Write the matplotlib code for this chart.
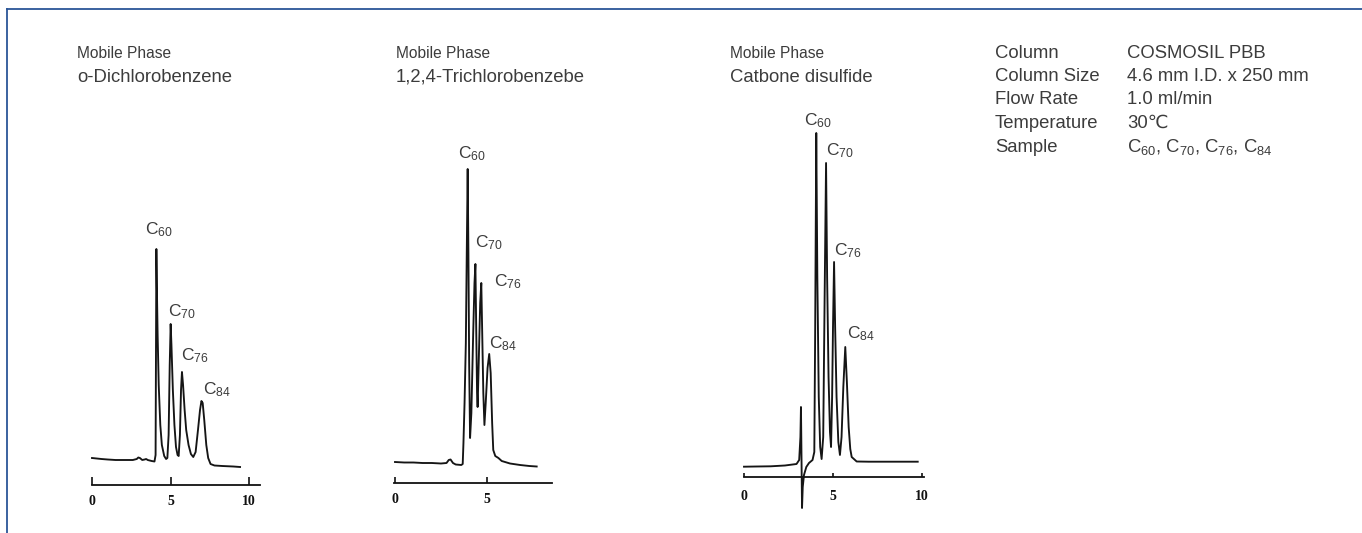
import matplotlib
matplotlib.use("Agg")
import matplotlib.pyplot as plt
from matplotlib.lines import Line2D

plt.rcParams['font.family'] = ['Liberation Sans', 'DejaVu Sans']
plt.rcParams['mathtext.fontset'] = 'custom'
plt.rcParams['mathtext.rm'] = 'Liberation Sans'
plt.rcParams['mathtext.it'] = 'Liberation Sans'
plt.rcParams['mathtext.bf'] = 'Liberation Sans:bold'

# ---------------- data (time in min, relative detector response) ----------------
solvents = ["o-Dichlorobenzene", "1,2,4-Trichlorobenzebe", "Catbone disulfide"]
peak_names = ["C$_{60}$", "C$_{70}$", "C$_{76}$", "C$_{84}$"]

t1 = [0.0, 0.3, 0.6, 1.0, 1.5, 2.0, 2.6, 2.85, 2.95, 3.05, 3.2, 3.35, 3.45, 3.55, 3.8, 3.98,
      4.05, 4.08, 4.10, 4.13, 4.18, 4.25, 4.35, 4.45, 4.6, 4.72, 4.8, 4.88, 4.95, 5.01, 5.06,
      5.15, 5.25, 5.35, 5.45, 5.52, 5.6, 5.67, 5.73, 5.8, 5.9, 6.0, 6.15, 6.3, 6.45, 6.6, 6.75,
      6.88, 6.97, 7.05, 7.15, 7.28, 7.4, 7.55, 7.8, 8.3, 9.0, 9.43]
s1 = [27, 26.5, 26, 25.5, 25, 25, 25, 26, 27.5, 27, 25, 25.5, 26, 25, 24, 23.5,
      30, 150, 236, 200, 150, 100, 60, 40, 29, 26, 27, 50, 120, 161, 140,
      95, 60, 38, 30, 29, 50, 95, 113, 100, 75, 55, 40, 31, 28, 33, 55,
      75, 84, 82, 65, 40, 27, 21, 19.5, 19, 18.5, 18]
peak_t1 = [4.10, 5.01, 5.73, 6.97]
peak_s1 = [236, 161, 113, 84]

t2 = [0.0, 0.5, 1.0, 1.5, 2.0, 2.5, 2.8, 2.92, 3.02, 3.15, 3.3, 3.6, 3.68, 3.72, 3.78, 3.85,
      3.9, 3.95, 3.99, 4.03, 4.08, 4.15, 4.25, 4.32, 4.37, 4.41, 4.46, 4.49, 4.55, 4.63, 4.69,
      4.74, 4.8, 4.86, 4.93, 5.03, 5.12, 5.2, 5.28, 5.34, 5.45, 5.62, 5.8, 6.25, 6.8, 7.3, 7.7]
s2 = [21, 20.5, 20.5, 20, 20, 19.5, 20, 23, 23.5, 20, 18.5, 18, 19, 40, 80, 140,
      230, 314, 230, 120, 45, 70, 150, 200, 219, 160, 90, 76, 120, 180, 200,
      150, 90, 58, 80, 115, 129, 110, 60, 33, 27, 25, 22, 19.5, 18, 17, 16.5]
peak_t2 = [3.95, 4.37, 4.69, 5.12]
peak_s2 = [314, 219, 200, 129]

t3 = [0.0, 0.7, 1.5, 2.3, 2.95, 3.1, 3.17, 3.2, 3.23, 3.26, 3.3, 3.37, 3.5, 3.65, 3.85, 3.95,
      4.0, 4.06, 4.12, 4.2, 4.28, 4.36, 4.45, 4.53, 4.61, 4.67, 4.75, 4.83, 4.89, 4.95, 5.0,
      5.06, 5.12, 5.2, 5.3, 5.39, 5.48, 5.58, 5.69, 5.78, 5.88, 5.97, 6.05, 6.33, 7.0, 8.0,
      9.0, 9.76]
s3 = [10.3, 10.5, 10.7, 11.5, 13, 17, 40, 70, 20, -31, -10, 2, 10, 14, 17, 25,
      150, 344, 200, 80, 30, 18, 40, 180, 314, 200, 100, 45, 30, 80, 150,
      215, 150, 80, 35, 22, 40, 90, 130, 95, 50, 28, 20, 15.5, 15.3, 15.3,
      15.3, 15.3]
peak_t3 = [4.06, 4.61, 5.06, 5.69]
peak_s3 = [344, 314, 215, 130]

x_ticks = [[0, 5, 10], [0, 5], [0, 5, 10]]
x_ticklabels = [["0", "5", "10"], ["0", "5"], ["0", "5", "10"]]

cond_names = ["Column", "Column Size", "Flow Rate", "Temperature", "Sample"]
cond_values = ["COSMOSIL PBB", "4.6 mm I.D. x 250 mm", "1.0 ml/min", "30\u2103",
               "C$_{60}$, C$_{70}$, C$_{76}$, C$_{84}$"]

# ---------------- layout (pixels) ----------------
W, H = 1362, 533
fig = plt.figure(figsize=(W / 100, H / 100), dpi=100)
fig.patch.set_facecolor('white')

border = '#2b5597'
fig.add_artist(Line2D([7 / W, 1], [1 - 9 / H, 1 - 9 / H], color=border, lw=1.3,
                      transform=fig.transFigure))
fig.add_artist(Line2D([7 / W, 7 / W], [1 - 9 / H, 0], color=border, lw=1.3,
                      transform=fig.transFigure))

TXT = '#3c3c3c'

# per chart: x0 px of t=0, px per min, axis y px, L, R, T, B, spine end, tick len, pad, header x
layouts = [
    dict(x0=92, k=15.7, ay=485, L=80, R=275, T=150, B=525, end=10.7, tl=8, pad=7, hx=77),
    dict(x0=395, k=18.4, ay=483, L=380, R=575, T=110, B=525, end=8.53, tl=6, pad=7, hx=396),
    dict(x0=744, k=17.8, ay=477, L=730, R=945, T=90, B=530, end=10.1, tl=4, pad=9.5, hx=730),
]
label_offsets = [
    [(-11, 19), (-3, 12), (-1, 16), (2, 11)],
    [(-10, 15), (0, 21), (13, 1), (0, 10)],
    [(-12, 12), (0, 12), (0, 11), (2, 13)],
]

traces = [(t1, s1, peak_t1, peak_s1), (t2, s2, peak_t2, peak_s2), (t3, s3, peak_t3, peak_s3)]

for i, (lay, (tt, ss, pt, ps)) in enumerate(zip(layouts, traces)):
    L, R, T, B = lay['L'], lay['R'], lay['T'], lay['B']
    ax = fig.add_axes([L / W, 1 - B / H, (R - L) / W, (B - T) / H])
    ax.set_xlim((L - lay['x0']) / lay['k'], (R - lay['x0']) / lay['k'])
    ax.set_ylim(lay['ay'] - B, lay['ay'] - T)
    ax.patch.set_alpha(0)
    for sp in ['top', 'right', 'left']:
        ax.spines[sp].set_visible(False)
    ax.spines['bottom'].set_position(('data', 0))
    ax.spines['bottom'].set_bounds(-0.05 if i == 1 else 0, lay['end'])
    ax.spines['bottom'].set_linewidth(1.3)
    ax.spines['bottom'].set_color('#111111')
    ax.set_yticks([])
    ax.set_xticks(x_ticks[i])
    ax.set_xticklabels(x_ticklabels[i], fontfamily='Liberation Serif', fontweight='bold',
                       fontsize=10, color='#111111')
    ax.tick_params(axis='x', direction='in', length=lay['tl'] * 0.72, width=1.2,
                   pad=lay['pad'], color='#111111')
    ax.plot(tt, ss, color='#151515', lw=1.35, solid_joinstyle='round', clip_on=False)
    for j, name in enumerate(peak_names):
        dx, dy = label_offsets[i][j]
        ax.annotate(name, xy=(pt[j], ps[j]), xytext=(dx * 0.72, dy * 0.72),
                    textcoords='offset points', ha='left', va='center',
                    fontsize=12.5, color=TXT)
    # headers
    fig.text(lay['hx'] / W, 1 - 53 / H, "Mobile Phase", fontsize=11.2, color=TXT,
             ha='left', va='center')
    fig.text(lay['hx'] / W, 1 - 77 / H, solvents[i], fontsize=13.3, color=TXT,
             ha='left', va='center')

# conditions block
for r, (n, v) in enumerate(zip(cond_names, cond_values)):
    y = 1 - (53 + r * 23.5) / H
    fig.text(995 / W, y, n, fontsize=13.3, color=TXT, ha='left', va='center')
    fig.text(1127 / W, y, v, fontsize=13.3, color=TXT, ha='left', va='center')

fig.savefig("out.png", dpi=100, facecolor='white')
